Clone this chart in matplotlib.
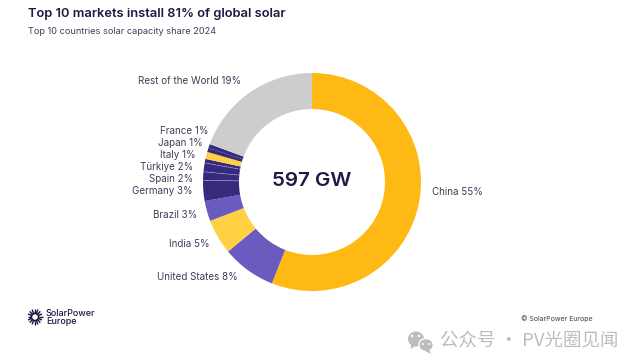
import numpy as np
import matplotlib
matplotlib.use("Agg")
import matplotlib.pyplot as plt
from matplotlib.patches import Circle, Ellipse, Polygon

W, H = 632, 359
INK = "#1b1b45"
LABEL = "#3f3f58"

names = ["China 55%", "United States 8%", "India 5%", "Brazil 3%", "Germany 3%", "Spain 2%",
         "Türkiye 2%", "", "Italy 1%", "Japan 1%", "France 1%", "Rest of the World 19%"]
shares = [56.0, 8.0, 5.2, 3.0, 3.05, 1.25, 1.3, 0.6, 1.05, 0.6, 0.6, 19.35]
colors = ["#FFB914", "#6A5BBE", "#FFD041", "#6A5BBE", "#352A7C", "#352A7C",
          "#352A7C", "#352A7C", "#FFD041", "#352A7C", "#352A7C", "#CDCDCD"]
divider_after = ["Germany 3%", "Spain 2%", "Türkiye 2%"]
label_pos = [(432, 192), (157, 277), (169, 244), (153, 215), (132, 191.5), (149, 179),
             (140, 167), None, (160, 155), (158, 143), (160, 131), (138, 81)]

plt.rcParams["font.family"] = ["Inter", "DejaVu Sans"]
fig = plt.figure(figsize=(W / 100, H / 100), dpi=100, facecolor="white")
ax = fig.add_axes([0, 0, 1, 1])
Y = lambda y: H - y

cx, cy, R, r = 312, 182, 109, 73
ax.pie(shares, colors=colors, startangle=90, counterclock=False, center=(cx, Y(cy)), radius=R,
       wedgeprops=dict(width=R - r, linewidth=0), normalize=True)

cum = np.cumsum(shares) / np.sum(shares)
for name, c in zip(names, cum):
    if name in divider_after:
        a = np.pi / 2 - 2 * np.pi * c
        ax.plot([cx + r * np.cos(a), cx + R * np.cos(a)], [Y(cy) + r * np.sin(a), Y(cy) + R * np.sin(a)],
                color="#b9b4dc", lw=0.5, ls=(0, (2, 1.2)), solid_capstyle="butt")

for name, pos in zip(names, label_pos):
    if pos:
        ax.text(pos[0], Y(pos[1]), name, fontsize=7.05, color=LABEL, ha="left", va="center")

ax.text(312, Y(180.5), "597 GW", fontsize=14.8, fontweight="semibold", color=INK, ha="center", va="center")
ax.text(28, Y(14), "Top 10 markets install 81% of global solar", fontsize=9.3, fontweight="semibold",
        color=INK, ha="left", va="center")
ax.text(28, Y(31.5), "Top 10 countries solar capacity share 2024", fontsize=6.6, color=LABEL, ha="left", va="center")

# logo
lx, ly = 35, 317
for a in np.linspace(0, 2 * np.pi, 16, endpoint=False):
    ax.plot([lx + 4.2 * np.cos(a), lx + 7.5 * np.cos(a)], [Y(ly) + 4.2 * np.sin(a), Y(ly) + 8 * np.sin(a)],
            color="#14143a", lw=1.0, solid_capstyle="butt")
ax.add_patch(Circle((lx, Y(ly)), 3.6, fc="none", ec="#14143a", lw=1.2))
ax.text(46, Y(314), "SolarPower", fontsize=6.5, fontweight="medium", color=INK, ha="left", va="center")
ax.text(46, Y(322), "Europe", fontsize=6.5, fontweight="medium", color=INK, ha="left", va="center")
ax.text(521, Y(318.5), "© SolarPower Europe", fontsize=5, color=LABEL, ha="left", va="center")

# watermark
wm = "#bcbcbc"
ax.add_patch(Ellipse((416, Y(339)), 16, 15, fc=wm, ec="none"))
ax.add_patch(Polygon([(411, Y(344)), (411, Y(349)), (416, Y(345))], fc=wm, ec="none"))
ax.add_patch(Ellipse((426, Y(345)), 14.5, 13, fc=wm, ec="white", lw=1))
ax.add_patch(Polygon([(429, Y(349)), (431, Y(354)), (425, Y(351))], fc=wm, ec="none"))
for (x, y, rr) in [(412, 336, 1.3), (419, 336, 1.3)]:
    ax.add_patch(Circle((x, Y(y)), rr, fc="white", ec="none"))
for (x, y, rr) in [(423, 344, 1.0), (429, 344, 1.0)]:
    ax.add_patch(Circle((x, Y(y)), rr, fc="white", ec="none"))
ax.text(440, Y(342), "公众号 · PV光圈见闻", fontsize=13.3, color=wm, ha="left", va="center",
        family=["Noto Sans CJK SC", "DejaVu Sans"], fontweight="light")

ax.set_xlim(0, W)
ax.set_ylim(0, H)
ax.set_aspect("auto")
ax.axis("off")
fig.savefig("out.png", dpi=100, facecolor="white")
